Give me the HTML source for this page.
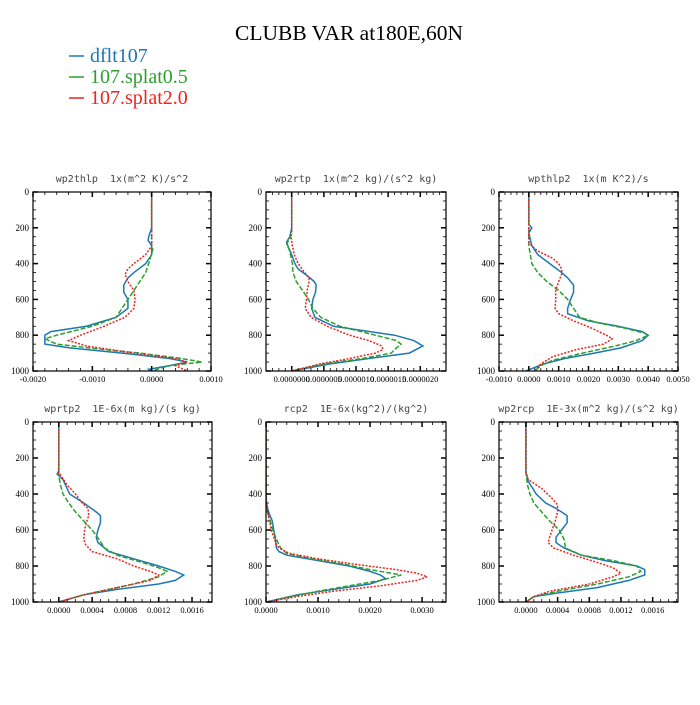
<!DOCTYPE html>
<html><head><meta charset="utf-8"><style>
body{margin:0;background:#fff;}
svg text{font-family:"Liberation Serif",serif;}
.pt{font-family:"DejaVu Sans Mono","Liberation Mono",monospace;font-size:10px;fill:#444;white-space:pre;}
</style></head><body>
<svg id="c" width="700" height="700" viewBox="0 0 700 700" xmlns="http://www.w3.org/2000/svg">
<text x="349" y="40" text-anchor="middle" font-size="21.5">CLUBB VAR at180E,60N</text>
<g>
<line x1="69" y1="56" x2="84" y2="56" stroke="#1f77b4" stroke-width="1.5"/>
<text x="90" y="62" font-size="20" fill="#1f77b4">dflt107</text>
<line x1="69" y1="77" x2="84" y2="77" stroke="#2ca02c" stroke-width="1.5"/>
<text x="90" y="83" font-size="20" fill="#2ca02c">107.splat0.5</text>
<line x1="69" y1="98" x2="84" y2="98" stroke="#e8251f" stroke-width="1.5"/>
<text x="90" y="104" font-size="20" fill="#e8251f">107.splat2.0</text>
</g>
</svg>
<script>
const seriesNames=["dflt107","107.splat0.5","107.splat2.0"];
const colors=["#1f77b4","#2ca02c","#e8251f"];
const dashes=["","5,2","2,1.5"];
const panelTitles=["wp2thlp  1x(m^2 K)/s^2","wp2rtp  1x(m^2 kg)/(s^2 kg)","wpthlp2  1x(m K^2)/s","wprtp2  1E-6x(m kg)/(s kg)","rcp2  1E-6x(kg^2)/(kg^2)","wp2rcp  1E-3x(m^2 kg)/(s^2 kg)"];
const xRanges=[[-0.002,0.001],[-4e-7,2.4e-6],[-0.001,0.005],[-0.00031,0.00184],[0,0.00346],[-0.00034,0.00192]];
const xTicks=[[-0.002,-0.001,0,0.001],[0,5e-7,1e-6,1.5e-6,2e-6],[-0.001,0,0.001,0.002,0.003,0.004,0.005],[0,0.0004,0.0008,0.0012,0.0016],[0,0.001,0.002,0.003],[0,0.0004,0.0008,0.0012,0.0016]];
const xTickLabels=[["-0.0020","-0.0010","0.0000","0.0010"],["0.0000000","0.0000005","0.0000010","0.0000015","0.0000020"],["-0.0010","0.0000","0.0010","0.0020","0.0030","0.0040","0.0050"],["0.0000","0.0004","0.0008","0.0012","0.0016"],["0.0000","0.0010","0.0020","0.0030"],["0.0000","0.0004","0.0008","0.0012","0.0016"]];
const xMinor=[0.0002,1e-7,0.0002,0.0001,0.0002,0.0001];
const yTicks=[0,200,400,600,800,1000];
const yTickLabels=["0","200","400","600","800","1000"];
const p1lev=[0,200,250,270,300,350,400,450,480,520,560,600,650,700,750,780,800,850,870,900,930,950,970,990,1000];
const p1blue=[0,0,-0.00005,-0.00006,0,0,-0.0001,-0.0003,-0.0004,-0.00047,-0.00047,-0.0004,-0.0004,-0.0006,-0.0011,-0.0017,-0.0018,-0.0018,-0.0014,-0.0005,0.0003,0.0006,0.0003,-0.00005,0];
const p1lev2=[0,300,320,400,450,500,550,600,650,700,750,800,820,850,880,900,930,950,970,990,1000];
const p1green=[0,0,0.00002,-0.00005,-0.0001,-0.0002,-0.0003,-0.0004,-0.0005,-0.0006,-0.001,-0.0016,-0.0018,-0.0016,-0.0008,-0.0002,0.0005,0.00085,0.0003,0.0001,0];
const p1lev3=[0,300,350,400,430,460,500,550,600,650,700,750,800,830,860,900,930,950,970,1000];
const p1red=[0,0,-0.0001,-0.0003,-0.0004,-0.00045,-0.0004,-0.0003,-0.00028,-0.0003,-0.00045,-0.0008,-0.0012,-0.0014,-0.0011,-0.0003,0.0004,0.0006,0.0004,0.0006];
const p2lev=[0,200,250,280,310,350,400,430,470,500,520,560,600,650,700,750,800,830,860,900,930,960,1000];
const p2blue=[0,0,-0.3e-7,-0.8e-7,-0.5e-7,0,0.5e-7,1e-7,2.5e-7,3.5e-7,3.8e-7,3.7e-7,3.3e-7,3.1e-7,3.6e-7,6.5e-7,16e-7,19e-7,20.4e-7,18.3e-7,12e-7,6e-7,0];
const p2lev2=[0,220,260,290,330,400,450,500,550,600,650,700,750,800,830,850,880,900,930,960,1000];
const p2green=[0,0,-0.3e-7,-0.8e-7,-0.3e-7,0.1e-7,0.2e-7,0.7e-7,1.7e-7,2.6e-7,3.3e-7,4.5e-7,7.5e-7,13e-7,16.3e-7,17e-7,16e-7,15.5e-7,11e-7,5e-7,0];
const p2lev3=[0,220,250,300,350,400,450,480,500,550,600,650,700,750,800,830,860,880,900,930,960,1000];
const p2red=[0,0,-0.1e-7,0.1e-7,0.4e-7,1e-7,2e-7,2.7e-7,2.7e-7,2.4e-7,2.3e-7,2.1e-7,3e-7,5.5e-7,9e-7,12e-7,14e-7,14.2e-7,13e-7,9e-7,4.5e-7,0];
const p3lev=[0,180,200,230,300,350,400,450,480,520,560,600,650,680,720,750,780,800,830,870,900,930,960,1000];
const p3blue=[0,0,0.0001,0,0.0001,0.0003,0.0007,0.0011,0.0013,0.0015,0.0015,0.0014,0.0013,0.0013,0.002,0.003,0.0038,0.004,0.0038,0.0031,0.0022,0.0012,0.0005,-0.0001];
const p3lev2=[0,300,400,450,500,550,600,650,700,730,760,790,800,830,860,900,940,970,1000];
const p3green=[0,0,0.0001,0.0003,0.0006,0.001,0.0013,0.0015,0.0017,0.0023,0.0032,0.0039,0.004,0.0036,0.0029,0.0018,0.0008,0.0004,0.0002];
const p3lev3=[0,280,300,330,370,400,430,460,500,550,600,650,680,720,760,800,820,850,880,920,960,1000];
const p3red=[0,0,0.0001,0.0003,0.0008,0.001,0.0011,0.0011,0.001,0.0009,0.0009,0.00088,0.001,0.0015,0.0021,0.0026,0.0028,0.0025,0.0016,0.0008,0.0004,0.0002];
const p4lev=[0,270,290,320,400,450,500,520,560,600,640,670,720,760,800,830,850,880,900,930,960,1000];
const p4blue=[0,0,-0.00002,0.00005,0.00013,0.0003,0.00045,0.0005,0.0005,0.00047,0.00045,0.00047,0.0006,0.0009,0.0012,0.0014,0.0015,0.0014,0.0012,0.0007,0.0003,0];
const p4lev2=[0,300,350,400,450,500,550,600,650,700,740,780,810,830,860,900,930,960,1000];
const p4green=[0,0,0.00002,0.00005,0.00012,0.0002,0.0003,0.0004,0.00048,0.00055,0.0007,0.001,0.0012,0.0013,0.0012,0.0009,0.0006,0.0003,0];
const p4lev3=[0,280,300,350,400,450,480,520,560,600,650,680,720,760,800,830,850,880,900,930,960,1000];
const p4red=[0,0,0.00003,0.0001,0.0002,0.00028,0.00035,0.00036,0.00033,0.00031,0.0003,0.00032,0.0004,0.0007,0.0009,0.0011,0.0012,0.0011,0.0009,0.0006,0.0003,0];
const p5lev=[0,400,450,500,550,600,650,700,720,740,760,780,800,830,850,870,900,930,960,1000];
const p5blue=[0,0,0.00001,0.00005,0.00012,0.00015,0.00018,0.0002,0.00025,0.0004,0.0008,0.0012,0.0016,0.002,0.0022,0.0023,0.002,0.0013,0.0006,0];
const p5lev2=[0,450,500,550,600,650,700,730,760,790,820,850,880,910,940,970,1000];
const p5green=[0,0,0.00003,0.00008,0.00013,0.0002,0.00028,0.0004,0.0009,0.0015,0.002,0.0026,0.0022,0.0016,0.001,0.0005,0];
const p5lev3=[0,430,500,600,680,700,730,760,790,820,840,860,880,910,940,970,1000];
const p5red=[0,0,0.00003,0.0001,0.0002,0.00025,0.00045,0.001,0.0017,0.0025,0.0029,0.0031,0.0029,0.0022,0.0013,0.0006,0];
const p6lev=[0,280,330,400,450,480,520,560,600,640,670,700,740,770,800,820,850,880,920,950,970,1000];
const p6blue=[0,0,0.00003,0.00013,0.00025,0.00038,0.00052,0.00052,0.00045,0.00038,0.00038,0.00048,0.0007,0.001,0.0014,0.0015,0.0015,0.0013,0.0009,0.0004,0.0001,0];
const p6lev2=[0,280,350,400,450,500,550,600,650,700,740,770,800,830,860,900,940,970,1000];
const p6green=[0,0,0.00002,0.00005,0.0001,0.0002,0.0003,0.00042,0.00048,0.0005,0.0007,0.0011,0.0014,0.00145,0.0013,0.0009,0.0004,0.0001,0];
const p6lev3=[0,280,320,370,420,460,500,550,600,640,670,700,740,780,810,840,860,900,940,970,1000];
const p6red=[0,0,0.00003,0.0002,0.00032,0.0004,0.0004,0.00037,0.00033,0.0003,0.00028,0.00035,0.0006,0.0009,0.0011,0.0012,0.0011,0.0008,0.0003,0.0001,0];

const panelData=[
 [[p1lev,p1blue],[p1lev2,p1green],[p1lev3,p1red]],
 [[p2lev,p2blue],[p2lev2,p2green],[p2lev3,p2red]],
 [[p3lev,p3blue],[p3lev2,p3green],[p3lev3,p3red]],
 [[p4lev,p4blue],[p4lev2,p4green],[p4lev3,p4red]],
 [[p5lev,p5blue],[p5lev2,p5green],[p5lev3,p5red]],
 [[p6lev,p6blue],[p6lev2,p6green],[p6lev3,p6red]]
];
const boxes=[[33,192,211,371],[266,192,446,371],[499,192,678,371],[33,422,212,602],[266,422,446,602],[499,422,678,602]];
const NS="http://www.w3.org/2000/svg";
const svg=document.getElementById('c');
function mk(tag,attrs,parent){const e=document.createElementNS(NS,tag);for(const k in attrs)e.setAttribute(k,attrs[k]);(parent||svg).appendChild(e);return e;}
for(let i=0;i<6;i++){
  const [L,T,R,B]=boxes[i];const [x0,x1]=xRanges[i];
  const xs=v=>L+(v-x0)/(x1-x0)*(R-L);
  const ys=p=>T+p/1000*(B-T);
  const g=mk('g',{});
  
  
  const t=mk('text',{x:(L+R)/2,y:T-10,'text-anchor':'middle','class':'pt'},g);
  t.textContent=panelTitles[i];
  
  
  const cp=mk('clipPath',{id:'cp'+i},g);mk('rect',{x:L,y:T,width:R-L,height:B-T},cp);
  for(let s=0;s<3;s++){
    const [lev,val]=panelData[i][s];
    let d='';for(let k=0;k<lev.length;k++)d+=(k?'L':'M')+xs(val[k]).toFixed(2)+','+ys(lev[k]).toFixed(2);
    const pth=mk('path',{d:d,fill:'none',stroke:colors[s],'stroke-width':1.5,'stroke-dasharray':dashes[s],'clip-path':'url(#cp'+i+')'},g);
    
    
  }
  const fr=mk('rect',{x:L,y:T,width:R-L,height:B-T,fill:'none',stroke:'#000','stroke-width':1.2},g);
  
  
  for(let p=0;p<=1000;p+=50){
    const major=p%200===0;const len=major?5:3;const y=ys(p);
    mk('line',{x1:L,y1:y,x2:L+len,y2:y,stroke:'#000','stroke-width':major?1.5:0.8},g);
    mk('line',{x1:R,y1:y,x2:R-len,y2:y,stroke:'#000','stroke-width':major?1.5:0.8},g);
  }
  for(let k=0;k<yTicks.length;k++){
    const tl=mk('text',{x:L-4,y:ys(yTicks[k])+3,'text-anchor':'end','font-size':9},g);
    tl.textContent=yTickLabels[k];
    
    
  }
  const m=xMinor[i];
  for(let n=Math.ceil(x0/m-1e-6);n*m<=x1+1e-12;n++){
    const v=n*m;const x=xs(v);
    const major=xTicks[i].some(tv=>Math.abs(tv-v)<m*0.01);const len=major?5:3;
    mk('line',{x1:x,y1:B,x2:x,y2:B-len,stroke:'#000','stroke-width':major?1.5:0.8},g);
    mk('line',{x1:x,y1:T,x2:x,y2:T+len,stroke:'#000','stroke-width':major?1.5:0.8},g);
  }
  for(let k=0;k<xTicks[i].length;k++){
    const tl=mk('text',{x:xs(xTicks[i][k]),y:B+11,'text-anchor':'middle','font-size':8.5},g);
    tl.textContent=xTickLabels[i][k];
    
    
  }
}
</script>
</body></html>
